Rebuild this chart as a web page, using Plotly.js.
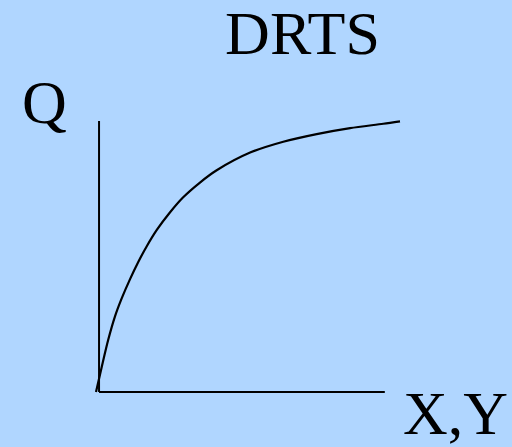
<!DOCTYPE html>
<html>
<head>
<meta charset="utf-8">
<script src="https://cdn.plot.ly/plotly-3.0.1.min.js"></script>
<style>html,body{margin:0;padding:0;background:#b0d6ff;}#chart{width:512px;height:447px;}</style>
</head>
<body>
<div id="chart"></div>
<script>
// Curve values (arbitrary units, origin at the axes' corner)
const curveX = [0, 0.19, 0.40, 0.625, 0.845, 1.12, 1.39, 1.67, 2.0, 2.43, 2.86, 3.42, 3.97, 5.07, 6.16, 7.26, 8.36, 9.45, 10];
const curveY = [0, 0.93, 1.91, 2.78, 3.44, 4.15, 4.78, 5.36, 5.96, 6.6, 7.15, 7.7, 8.15, 8.8, 9.2, 9.48, 9.7, 9.86, 9.95];
// axis extents
const axisXEnd = 9.5;
const axisYEnd = 9.96;
const axisOrigin = 0.1;
const titleText = "DRTS";
const yLabel = "Q";
const xLabel = "X,Y";

const serif = "Liberation Serif, Times New Roman, serif";
const bg = "#b0d6ff";

const trace = {
  x: curveX, y: curveY, mode: "lines", type: "scatter",
  line: {color: "#000", width: 2.2, shape: "spline", smoothing: 0.8},
  hoverinfo: "skip", cliponaxis: false
};

const layout = {
  width: 512, height: 447,
  margin: {l: 0, r: 0, t: 0, b: 0},
  paper_bgcolor: bg, plot_bgcolor: bg,
  showlegend: false,
  xaxis: {range: [-3.158, 13.684], visible: false, fixedrange: true},
  yaxis: {range: [-2.022, 14.41], visible: false, fixedrange: true},
  title: {
    text: titleText,
    font: {family: serif, size: 62, color: "#000"},
    x: 302.5 / 512, xanchor: "center", xref: "paper",
    y: 1 - 11 / 447, yanchor: "top", yref: "container"
  },
  shapes: [
    {type: "line", xref: "x", yref: "y", x0: axisOrigin, y0: 0, x1: axisOrigin, y1: axisYEnd, line: {color: "#000", width: 2}},
    {type: "line", xref: "x", yref: "y", x0: axisOrigin, y0: 0, x1: axisXEnd, y1: 0, line: {color: "#000", width: 2}}
  ],
  annotations: [
    {text: yLabel, xref: "paper", yref: "paper", x: 20 / 512, y: 1 - 66 / 447, xanchor: "left", yanchor: "top",
     showarrow: false, font: {family: serif, size: 62, color: "#000"}},
    {text: xLabel, xref: "paper", yref: "paper", x: 401 / 512, y: 1 - 377 / 447, xanchor: "left", yanchor: "top",
     showarrow: false, font: {family: serif, size: 62, color: "#000"}}
  ]
};

Plotly.newPlot("chart", [trace], layout, {staticPlot: true, displayModeBar: false});
</script>
</body>
</html>
